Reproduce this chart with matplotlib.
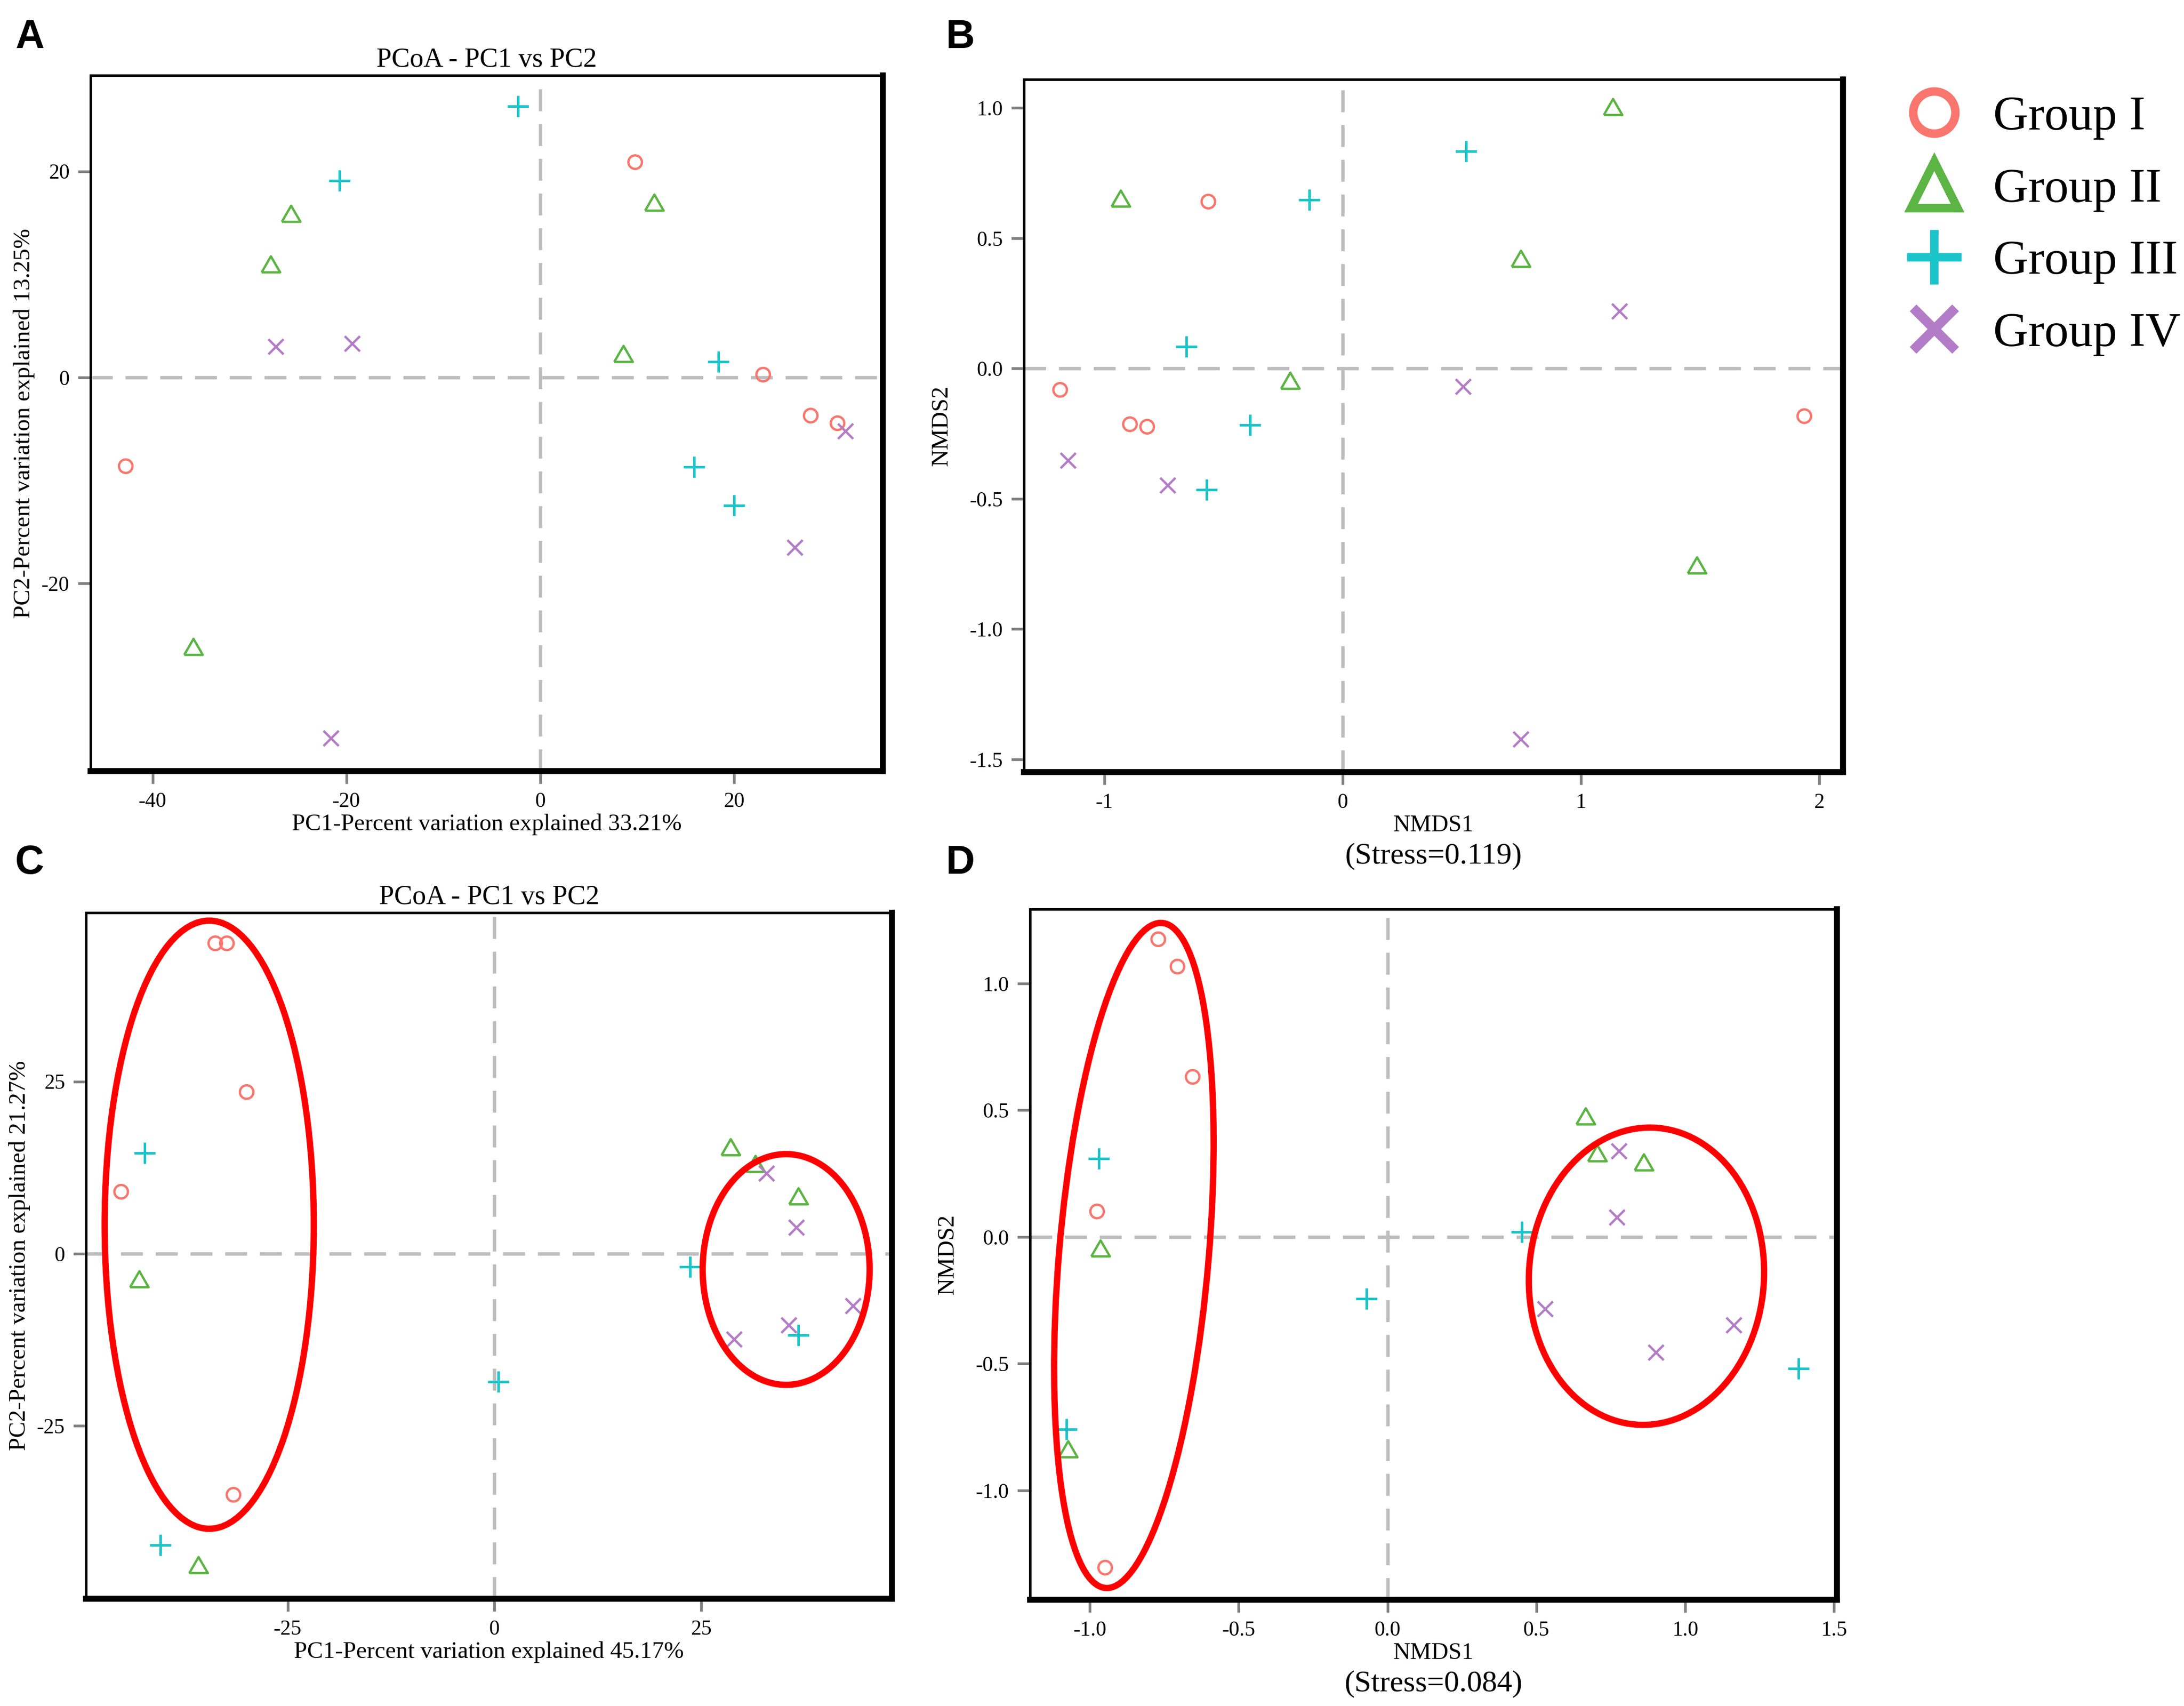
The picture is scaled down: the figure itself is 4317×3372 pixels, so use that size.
import matplotlib
matplotlib.use("Agg")
import matplotlib.pyplot as plt
from matplotlib.lines import Line2D
from matplotlib.patches import Ellipse

plt.rcParams['font.family'] = ['Liberation Serif', 'DejaVu Serif']

groups = ['Group I', 'Group II', 'Group III', 'Group IV']
colors = ['#F8766D', '#5BB443', '#1BC4C9', '#B37CC6']

# A: PCoA (PC1 33.21%, PC2 13.25%)
a_x = [[9.8, -42.8, 23.0, 27.9, 30.7],
       [-25.7, -27.8, 11.8, 8.6, -35.8],
       [-2.3, -20.7, 18.4, 15.9, 20.0],
       [-27.3, -19.4, 31.5, 26.3, -21.6]]
a_y = [[20.9, -8.6, 0.3, -3.7, -4.4],
       [15.9, 11.0, 17.0, 2.3, -26.1],
       [26.3, 19.1, 1.5, -8.7, -12.4],
       [3.0, 3.3, -5.2, -16.5, -35.0]]

# B: NMDS, stress 0.119
b_x = [[-0.563, -1.185, -0.892, -0.820, 1.938],
       [-0.931, 1.134, 0.748, -0.219, 1.488],
       [0.519, -0.139, -0.656, -0.388, -0.571],
       [1.162, 0.506, -1.152, -0.733, 0.748]]
b_y = [[0.642, -0.080, -0.213, -0.223, -0.181],
       [0.653, 1.004, 0.421, -0.046, -0.754],
       [0.834, 0.648, 0.084, -0.217, -0.465],
       [0.221, -0.069, -0.352, -0.448, -1.423]]

# C: PCoA (PC1 45.17%, PC2 21.27%)
c_x = [[-33.8, -32.4, -30.0, -45.2, -31.6],
       [-43.0, -35.8, 28.6, 31.6, 36.8],
       [-42.3, -40.4, 0.5, 23.7, 36.8],
       [32.9, 36.5, 43.4, 35.6, 29.0]]
c_y = [[45.1, 45.1, 23.5, 9.0, -35.0],
       [-3.7, -45.2, 15.5, 13.1, 8.4],
       [14.6, -42.3, -18.6, -1.9, -11.8],
       [11.7, 3.8, -7.6, -10.4, -12.4]]

# D: NMDS, stress 0.084
d_x = [[-0.771, -0.707, -0.656, -0.976, -0.949],
       [0.666, 0.705, 0.860, -0.964, -1.073],
       [-0.970, 0.451, -0.070, 1.381, -1.079],
       [0.778, 0.771, 0.529, 1.164, 0.902]]
d_y = [[1.175, 1.068, 0.632, 0.101, -1.304],
       [0.477, 0.330, 0.295, -0.044, -0.836],
       [0.309, 0.020, -0.243, -0.519, -0.759],
       [0.339, 0.077, -0.284, -0.348, -0.455]]

# ellipses: center x, center y, width, height, angle
c_ell = [(-34.5, 4.2, 25.3, 88.3, 0), (35.3, -2.3, 20.2, 33.5, 0)]
d_ell = [(-0.852, -0.073, 0.503, 2.63, -4.1), (0.870, -0.155, 0.790, 1.173, -2)]

tri = [(-1, -0.866), (1, -0.866), (0, 0.866), (-1, -0.866)]
mk = [dict(marker='o', ms=6.4, mew=1.1),
      dict(marker=tri, ms=8.8, mew=1.1),
      dict(marker='+', ms=10, mew=1.2),
      dict(marker='x', ms=7, mew=1.1)]

fig = plt.figure(figsize=(4317 / 300, 3372 / 300), dpi=300)


def panel(rect, xs, ys, xlim, ylim, xticks, yticks, fmt):
    ax = fig.add_axes(rect)
    ax.axhline(0, color='#BDBDBD', lw=1.6, ls=(0, (6.5, 3.8)), zorder=1)
    ax.axvline(0, color='#BDBDBD', lw=1.6, ls=(0, (6.5, 3.8)), zorder=1)
    for i in range(4):
        ax.plot(xs[i], ys[i], ls='none', color=colors[i], mfc='none',
                zorder=3, **mk[i])
    ax.set_xlim(*xlim)
    ax.set_ylim(*ylim)
    ax.set_xticks(xticks)
    ax.set_yticks(yticks)
    ax.set_xticklabels([fmt.format(v) for v in xticks])
    ax.set_yticklabels([fmt.format(v) for v in yticks])
    ax.tick_params(direction='out', length=6, width=1.3, color='#808080',
                   labelsize=10, pad=4)
    for s in ['left', 'top']:
        ax.spines[s].set_linewidth(1.2)
    for s in ['right', 'bottom']:
        ax.spines[s].set_linewidth(2.8)
    return ax


axA = panel([0.0415, 0.548, 0.3628, 0.4078], a_x, a_y, (-46.4, 35.4), (-38.2, 29.3),
            [-40, -20, 0, 20], [-20, 0, 20], '{:g}')
axA.set_title('PCoA - PC1 vs PC2', fontsize=13, pad=4)
axA.set_xlabel('PC1-Percent variation explained 33.21%', fontsize=11.3, labelpad=1)
axA.set_ylabel('PC2-Percent variation explained 13.25%', fontsize=11.3, labelpad=3)

axB = panel([0.4688, 0.5474, 0.3750, 0.4060], b_x, b_y, (-1.337, 2.100), (-1.549, 1.109),
            [-1, 0, 1, 2], [-1.5, -1.0, -0.5, 0.0, 0.5, 1.0], '{:g}')
axB.set_yticklabels(['{:.1f}'.format(v) for v in [-1.5, -1.0, -0.5, 0.0, 0.5, 1.0]])
axB.set_xlabel('NMDS1', fontsize=11.3, labelpad=1)
axB.set_ylabel('NMDS2', fontsize=11.3, labelpad=8)
axB.annotate('(Stress=0.119)', xy=(0.5, 0), xycoords='axes fraction', xytext=(0, -40),
             textcoords='offset points', ha='center', va='center', fontsize=14.4)

axC = panel([0.0394, 0.0629, 0.3690, 0.4021], c_x, c_y, (-49.4, 48.1), (-50.1, 49.5),
            [-25, 0, 25], [-25, 0, 25], '{:g}')
for cx, cy, w, h, ang in c_ell:
    axC.add_patch(Ellipse((cx, cy), w, h, angle=ang, fill=False, ec='#FF0000', lw=3, zorder=4))
axC.set_title('PCoA - PC1 vs PC2', fontsize=13, pad=4)
axC.set_xlabel('PC1-Percent variation explained 45.17%', fontsize=11.3, labelpad=1)
axC.set_ylabel('PC2-Percent variation explained 21.27%', fontsize=11.3, labelpad=3)

axD = panel([0.4716, 0.0623, 0.3695, 0.4048], d_x, d_y, (-1.201, 1.510), (-1.431, 1.293),
            [-1.0, -0.5, 0.0, 0.5, 1.0, 1.5], [-1.0, -0.5, 0.0, 0.5, 1.0], '{:.1f}')
for cx, cy, w, h, ang in d_ell:
    axD.add_patch(Ellipse((cx, cy), w, h, angle=ang, fill=False, ec='#FF0000', lw=3, zorder=4))
axD.set_xlabel('NMDS1', fontsize=11.3, labelpad=1)
axD.set_ylabel('NMDS2', fontsize=11.3, labelpad=8)
axD.annotate('(Stress=0.084)', xy=(0.5, 0), xycoords='axes fraction', xytext=(0, -40),
             textcoords='offset points', ha='center', va='center', fontsize=14.4)

# panel letters
for x, y, s in [(0.007, 0.989, 'A'), (0.433, 0.989, 'B'), (0.007, 0.505, 'C'), (0.433, 0.505, 'D')]:
    fig.text(x, y, s, fontsize=19, fontweight='bold', va='top', ha='left',
             family=['Liberation Sans', 'DejaVu Sans'])

# legend
handles = [Line2D([], [], ls='none', marker='o', ms=20, mew=4, mfc='none', color=colors[0]),
           Line2D([], [], ls='none', marker='^', ms=22, mew=4, mfc='none', color=colors[1]),
           Line2D([], [], ls='none', marker='+', ms=26, mew=4, color=colors[2]),
           Line2D([], [], ls='none', marker='x', ms=20, mew=4.5, color=colors[3])]
fig.legend(handles, groups, loc='upper left', bbox_to_anchor=(0.8745, 0.944),
           frameon=False, fontsize=23, handlelength=1.0, handletextpad=0.72,
           labelspacing=0.58, borderpad=0, borderaxespad=0)

fig.savefig('out.png', dpi=300)
